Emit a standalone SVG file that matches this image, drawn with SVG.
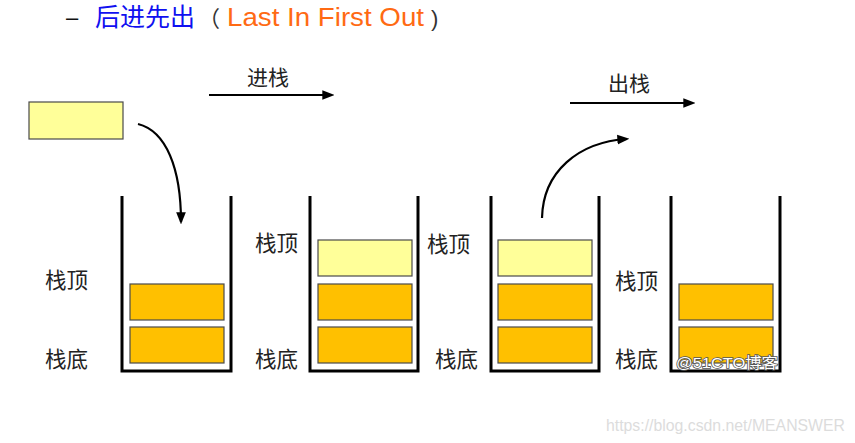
<svg xmlns="http://www.w3.org/2000/svg" width="855" height="443" viewBox="0 0 855 443">
<style>
.cjk{font-family:"Liberation Sans","Noto Sans CJK SC",sans-serif;}
.lbl{font-size:21.5px;fill:#222;}
.wall{fill:none;stroke:#000;stroke-width:3;}
.org{fill:#FFC000;stroke:#4a4a4a;stroke-width:1.2;}
.yel{fill:#FFFF99;stroke:#4a4a4a;stroke-width:1.2;}
.arr{fill:none;stroke:#000;stroke-width:2.2;marker-end:url(#ah);}
</style>
<defs>
<marker id="ah" viewBox="0 0 10 10" refX="8" refY="5" markerWidth="5.5" markerHeight="5.5" orient="auto" markerUnits="strokeWidth">
<path d="M0,1 L10,5 L0,9 Z" fill="#000"/>
</marker>
</defs>
<rect width="855" height="443" fill="#fff"/>
<g id="title" class="cjk">
<text x="66" y="25" font-size="22" fill="#111">–</text>
<text x="95" y="26" font-size="25" fill="#1010F0">后进先出</text>
<text x="198" y="26" font-size="22" fill="#333">（</text>
<text x="227" y="26" font-size="25" fill="#FF6A13" textLength="197" lengthAdjust="spacingAndGlyphs">Last In First Out</text>
<text x="431" y="26" font-size="22" fill="#333">)</text>
</g>
<g id="item">
<rect x="29" y="102" width="94" height="37" class="yel"/>
</g>
<g id="stack1">
<path d="M122,196 V371 H231 V196" class="wall"/>
<rect x="130" y="284" width="94" height="36" class="org"/>
<rect x="130" y="327" width="94" height="36" class="org"/>
<text x="45" y="288" class="cjk lbl">栈顶</text>
<text x="45" y="367" class="cjk lbl">栈底</text>
</g>
<g id="stack2">
<path d="M310,196 V371 H418 V196" class="wall"/>
<rect x="318" y="240" width="94" height="36" class="yel"/>
<rect x="318" y="284" width="94" height="36" class="org"/>
<rect x="318" y="327" width="94" height="36" class="org"/>
<text x="255" y="251" class="cjk lbl">栈顶</text>
<text x="255" y="367" class="cjk lbl">栈底</text>
</g>
<g id="stack3">
<path d="M491,196 V371 H599 V196" class="wall"/>
<rect x="498" y="240" width="94" height="36" class="yel"/>
<rect x="498" y="284" width="94" height="36" class="org"/>
<rect x="498" y="327" width="94" height="36" class="org"/>
<text x="427" y="252" class="cjk lbl">栈顶</text>
<text x="435" y="367" class="cjk lbl">栈底</text>
</g>
<g id="stack4">
<path d="M671,196 V371 H780 V196" class="wall"/>
<rect x="679" y="284" width="94" height="36" class="org"/>
<rect x="679" y="327" width="94" height="36" class="org"/>
<text x="615" y="289" class="cjk lbl">栈顶</text>
<text x="615" y="367" class="cjk lbl">栈底</text>
</g>
<g id="connectors">
<path d="M138,124 C166,131 181,168 181,222" class="arr"/>
<path d="M209,95 H332" class="arr"/>
<path d="M570,103 H693" class="arr"/>
<path d="M542,218 C543,172 578,142 627,139" class="arr"/>
</g>
<g id="labels" class="cjk">
<text x="247" y="85" font-size="21" fill="#222">进栈</text>
<text x="608" y="91" font-size="21" fill="#222">出栈</text>
</g>
<g id="watermarks" class="cjk">
<text x="676" y="368" font-size="15" fill="#fff" stroke="#555" stroke-width="1.6" paint-order="stroke" textLength="102" lengthAdjust="spacingAndGlyphs">@51CTO博客</text>
<text x="606" y="431" font-size="16" fill="#dcdcdc" textLength="239" lengthAdjust="spacingAndGlyphs">https://blog.csdn.net/MEANSWER</text>
</g>
</svg>
